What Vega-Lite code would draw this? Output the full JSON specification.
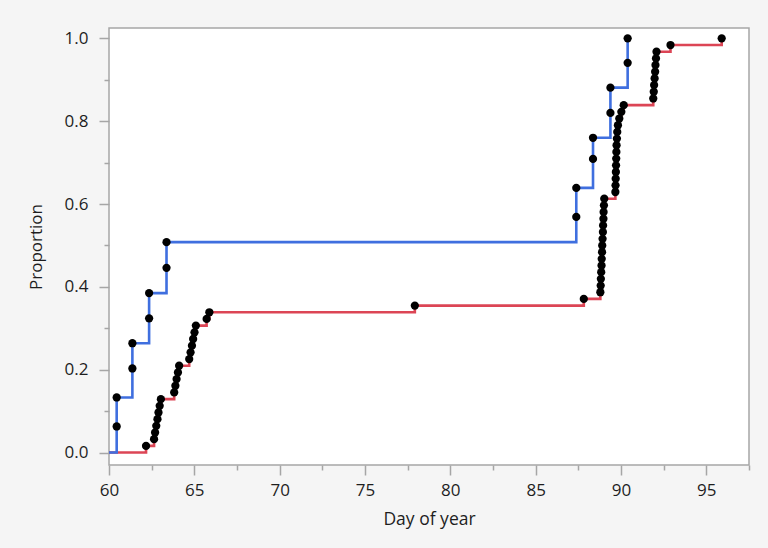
{
  "$schema": "https://vega.github.io/schema/vega-lite/v6.json",
  "width": 640,
  "height": 437,
  "autosize": "none",
  "padding": {"left": 109, "top": 28, "right": 19, "bottom": 83},
  "background": "#f5f5f5",
  "config": {
    "view": {"stroke": "#a6a6a6", "strokeWidth": 1.5, "fill": "white"},
    "font": "Open Sans"
  },
  "datasets": {
    "cdf": [
      {"series": "B", "day": 60, "p": 0, "pt": 0},
      {"series": "B", "day": 62.17, "p": 0.0161, "pt": 1},
      {"series": "B", "day": 62.64, "p": 0.0323, "pt": 1},
      {"series": "B", "day": 62.70, "p": 0.0484, "pt": 1},
      {"series": "B", "day": 62.77, "p": 0.0645, "pt": 1},
      {"series": "B", "day": 62.84, "p": 0.0806, "pt": 1},
      {"series": "B", "day": 62.90, "p": 0.0968, "pt": 1},
      {"series": "B", "day": 62.97, "p": 0.1129, "pt": 1},
      {"series": "B", "day": 63.04, "p": 0.1290, "pt": 1},
      {"series": "B", "day": 63.82, "p": 0.1452, "pt": 1},
      {"series": "B", "day": 63.89, "p": 0.1613, "pt": 1},
      {"series": "B", "day": 63.96, "p": 0.1774, "pt": 1},
      {"series": "B", "day": 64.04, "p": 0.1935, "pt": 1},
      {"series": "B", "day": 64.11, "p": 0.2097, "pt": 1},
      {"series": "B", "day": 64.70, "p": 0.2258, "pt": 1},
      {"series": "B", "day": 64.78, "p": 0.2419, "pt": 1},
      {"series": "B", "day": 64.86, "p": 0.2581, "pt": 1},
      {"series": "B", "day": 64.93, "p": 0.2742, "pt": 1},
      {"series": "B", "day": 65.01, "p": 0.2903, "pt": 1},
      {"series": "B", "day": 65.09, "p": 0.3065, "pt": 1},
      {"series": "B", "day": 65.72, "p": 0.3226, "pt": 1},
      {"series": "B", "day": 65.88, "p": 0.3387, "pt": 1},
      {"series": "B", "day": 77.92, "p": 0.3548, "pt": 1},
      {"series": "B", "day": 87.82, "p": 0.3710, "pt": 1},
      {"series": "B", "day": 88.79, "p": 0.3871, "pt": 1},
      {"series": "B", "day": 88.81, "p": 0.4032, "pt": 1},
      {"series": "B", "day": 88.82, "p": 0.4194, "pt": 1},
      {"series": "B", "day": 88.84, "p": 0.4355, "pt": 1},
      {"series": "B", "day": 88.86, "p": 0.4516, "pt": 1},
      {"series": "B", "day": 88.87, "p": 0.4677, "pt": 1},
      {"series": "B", "day": 88.89, "p": 0.4839, "pt": 1},
      {"series": "B", "day": 88.90, "p": 0.5000, "pt": 1},
      {"series": "B", "day": 88.92, "p": 0.5161, "pt": 1},
      {"series": "B", "day": 88.94, "p": 0.5323, "pt": 1},
      {"series": "B", "day": 88.95, "p": 0.5484, "pt": 1},
      {"series": "B", "day": 88.97, "p": 0.5645, "pt": 1},
      {"series": "B", "day": 88.98, "p": 0.5806, "pt": 1},
      {"series": "B", "day": 89.00, "p": 0.5968, "pt": 1},
      {"series": "B", "day": 89.02, "p": 0.6129, "pt": 1},
      {"series": "B", "day": 89.67, "p": 0.6290, "pt": 1},
      {"series": "B", "day": 89.68, "p": 0.6452, "pt": 1},
      {"series": "B", "day": 89.69, "p": 0.6613, "pt": 1},
      {"series": "B", "day": 89.70, "p": 0.6774, "pt": 1},
      {"series": "B", "day": 89.71, "p": 0.6935, "pt": 1},
      {"series": "B", "day": 89.72, "p": 0.7097, "pt": 1},
      {"series": "B", "day": 89.73, "p": 0.7258, "pt": 1},
      {"series": "B", "day": 89.74, "p": 0.7419, "pt": 1},
      {"series": "B", "day": 89.76, "p": 0.7581, "pt": 1},
      {"series": "B", "day": 89.78, "p": 0.7742, "pt": 1},
      {"series": "B", "day": 89.82, "p": 0.7903, "pt": 1},
      {"series": "B", "day": 89.90, "p": 0.8065, "pt": 1},
      {"series": "B", "day": 90.02, "p": 0.8226, "pt": 1},
      {"series": "B", "day": 90.16, "p": 0.8387, "pt": 1},
      {"series": "B", "day": 91.89, "p": 0.8548, "pt": 1},
      {"series": "B", "day": 91.92, "p": 0.8710, "pt": 1},
      {"series": "B", "day": 91.94, "p": 0.8871, "pt": 1},
      {"series": "B", "day": 91.97, "p": 0.9032, "pt": 1},
      {"series": "B", "day": 92.00, "p": 0.9194, "pt": 1},
      {"series": "B", "day": 92.02, "p": 0.9355, "pt": 1},
      {"series": "B", "day": 92.05, "p": 0.9516, "pt": 1},
      {"series": "B", "day": 92.08, "p": 0.9677, "pt": 1},
      {"series": "B", "day": 92.90, "p": 0.9839, "pt": 1},
      {"series": "B", "day": 95.90, "p": 1.0, "pt": 1},
      {"series": "A", "day": 60, "p": 0, "pt": 0},
      {"series": "A", "day": 60.45, "p": 0.063, "pt": 1},
      {"series": "A", "day": 60.45, "p": 0.133, "pt": 1},
      {"series": "A", "day": 61.37, "p": 0.203, "pt": 1},
      {"series": "A", "day": 61.37, "p": 0.264, "pt": 1},
      {"series": "A", "day": 62.35, "p": 0.324, "pt": 1},
      {"series": "A", "day": 62.35, "p": 0.385, "pt": 1},
      {"series": "A", "day": 63.37, "p": 0.446, "pt": 1},
      {"series": "A", "day": 63.37, "p": 0.508, "pt": 1},
      {"series": "A", "day": 87.38, "p": 0.569, "pt": 1},
      {"series": "A", "day": 87.38, "p": 0.639, "pt": 1},
      {"series": "A", "day": 88.36, "p": 0.709, "pt": 1},
      {"series": "A", "day": 88.36, "p": 0.760, "pt": 1},
      {"series": "A", "day": 89.38, "p": 0.820, "pt": 1},
      {"series": "A", "day": 89.38, "p": 0.881, "pt": 1},
      {"series": "A", "day": 90.39, "p": 0.941, "pt": 1},
      {"series": "A", "day": 90.39, "p": 1.0, "pt": 1}
    ]
  },
  "data": {"name": "cdf"},
  "encoding": {
    "x": {
      "field": "day",
      "type": "quantitative",
      "scale": {"domain": [60, 97.5], "nice": false, "zero": false},
      "axis": {
        "title": "Day of year",
        "values": [60, 62.5, 65, 67.5, 70, 72.5, 75, 77.5, 80, 82.5, 85, 87.5, 90, 92.5, 95, 97.5],
        "labelExpr": "datum.value % 5 === 0 ? format(datum.value, 'd') : ''",
        "tickSize": {"condition": {"test": "datum.value % 5 === 0", "value": 10}, "value": 5},
        "tickColor": "#a6a6a6",
        "tickWidth": 1.5,
        "domain": false,
        "grid": false,
        "labelFontSize": 17,
        "labelColor": "#1e1e1e",
        "labelPadding": 7,
        "labelFlush": false,
        "labelOverlap": false,
        "titleFontSize": 17.5,
        "titleFontWeight": "normal",
        "titleColor": "#1e1e1e",
        "titlePadding": 12
      }
    },
    "y": {
      "field": "p",
      "type": "quantitative",
      "scale": {"domain": [-0.03, 1.025], "nice": false, "zero": false},
      "axis": {
        "title": "Proportion",
        "values": [0, 0.1, 0.2, 0.3, 0.4, 0.5, 0.6, 0.7, 0.8, 0.9, 1.0],
        "labelExpr": "round(datum.value * 10) % 2 === 0 ? format(datum.value, '.1f') : ''",
        "tickSize": {"condition": {"test": "round(datum.value * 10) % 2 === 0", "value": 10}, "value": 5},
        "tickColor": "#a6a6a6",
        "tickWidth": 1.5,
        "domain": false,
        "grid": false,
        "labelFontSize": 17,
        "labelColor": "#1e1e1e",
        "labelPadding": 11,
        "labelFlush": false,
        "labelOverlap": false,
        "titleFontSize": 17,
        "titleFontWeight": "normal",
        "titleColor": "#1e1e1e",
        "titlePadding": 19
      }
    }
  },
  "layer": [
    {
      "mark": {"type": "line", "interpolate": "step-after", "strokeWidth": 2.6},
      "encoding": {
        "color": {
          "field": "series",
          "type": "nominal",
          "scale": {"domain": ["A", "B"], "range": ["#3f6fdf", "#dc4555"]},
          "legend": null
        },
        "order": [{"field": "day"}, {"field": "p"}]
      }
    },
    {
      "transform": [{"filter": "datum.pt === 1"}],
      "mark": {"type": "circle", "size": 68, "color": "black", "opacity": 1}
    }
  ]
}
